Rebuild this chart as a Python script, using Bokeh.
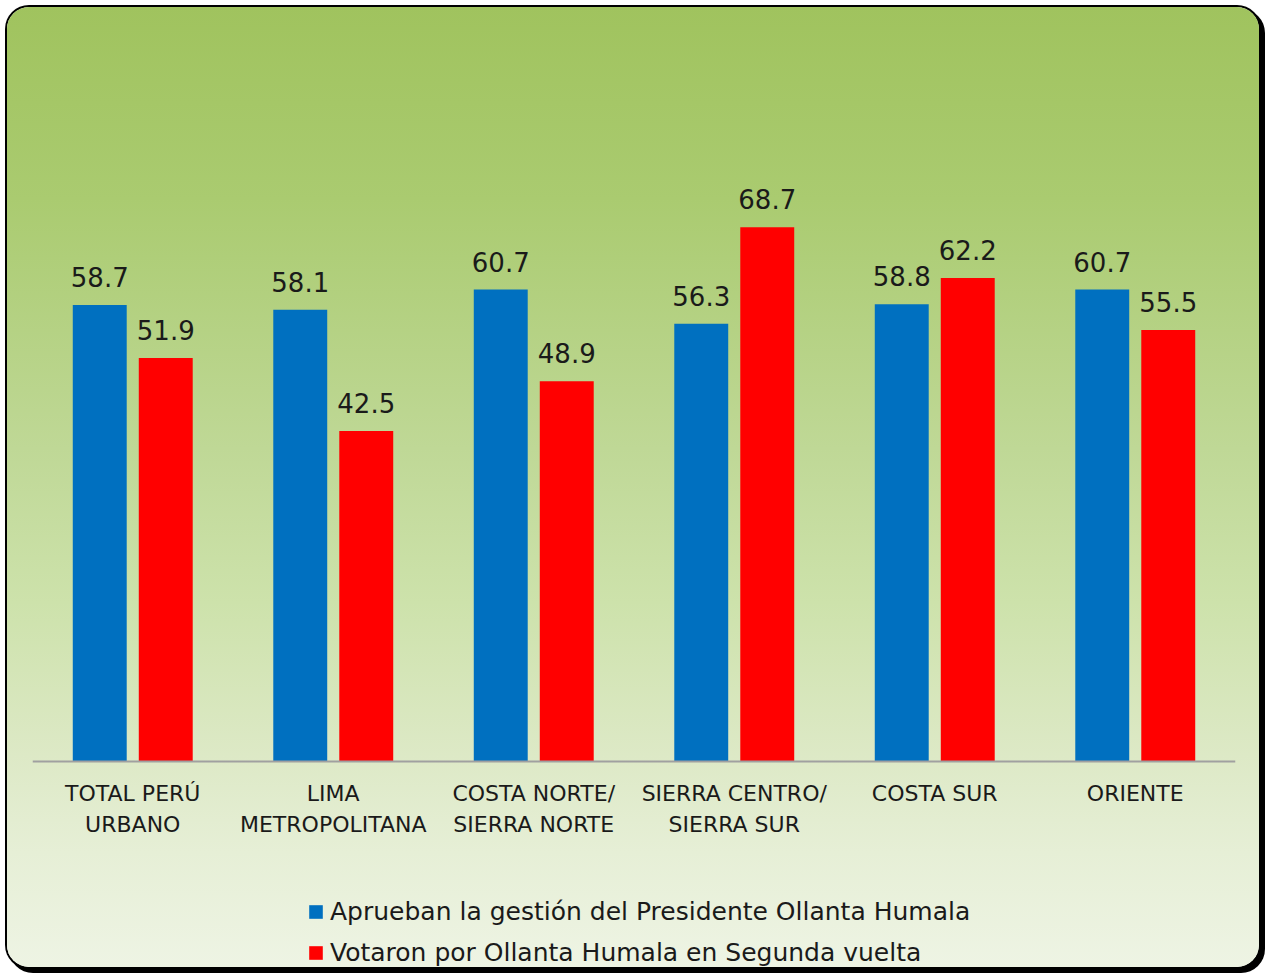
from bokeh.plotting import figure
from bokeh.models import ColumnDataSource, FactorRange, Range1d, Legend, LegendItem, LabelSet
from bokeh.core.properties import value
from bokeh.transform import dodge
from bokeh.embed import file_html
from bokeh.resources import INLINE

categories = ["TOTAL PERÚ\nURBANO", "LIMA\nMETROPOLITANA", "COSTA NORTE/\nSIERRA NORTE",
              "SIERRA CENTRO/\nSIERRA SUR", "COSTA SUR", "ORIENTE"]
aprueban = [58.7, 58.1, 60.7, 56.3, 58.8, 60.7]
votaron = [51.9, 42.5, 48.9, 68.7, 62.2, 55.5]
series_names = ["Aprueban la gestión del Presidente Ollanta Humala",
                "Votaron por Ollanta Humala en Segunda vuelta"]

src = ColumnDataSource(dict(cat=categories, a=aprueban, v=votaron,
                            a_lbl=[f"{x:.1f}" for x in aprueban],
                            v_lbl=[f"{x:.1f}" for x in votaron]))

FONT = "DejaVu Sans"
OFF = 7
TOP = 139 - OFF          # frame top inside the figure
ZERO = 761 - OFF         # y of the axis line inside the figure
BOTTOM = 960             # frame bottom inside the figure
PX_PER_UNIT = 622 / 80
y_min = -(BOTTOM - ZERO) / PX_PER_UNIT

p = figure(x_range=FactorRange(factors=categories, range_padding=0),
           y_range=Range1d(y_min, 80), frame_width=1203, frame_height=BOTTOM - TOP,
           output_backend="svg", toolbar_location=None,
           min_border_left=32 - OFF, min_border_right=24,
           min_border_top=TOP, min_border_bottom=0)
p.background_fill_color = None
p.border_fill_color = None
p.outline_line_color = None
p.styles = {
    "margin-left": f"{OFF}px",
    "margin-top": f"{OFF}px",
    "background-image": "linear-gradient(to bottom, #a0c35e 0%, #aacb70 20%, #bfd896 46%, #cde2ab 62%, #dde9c6 78%, #e6efd6 88%, #eef4e4 100%)",
    "border-radius": "22px",
    "box-shadow": "0 0 0 2px #000, 4px 4px 0 2px #000",
}

r1 = p.vbar(x=dodge("cat", -0.1646, range=p.x_range), top="a", bottom=0, width=0.269, source=src,
            fill_color="#0070C0", line_color=None)
r2 = p.vbar(x=dodge("cat", 0.1646, range=p.x_range), top="v", bottom=0, width=0.269, source=src,
            fill_color="#FF0000", line_color=None)

for col, lbl, off in (("a", "a_lbl", -0.1646), ("v", "v_lbl", 0.1646)):
    p.add_layout(LabelSet(x=dodge("cat", off, range=p.x_range), y=col, text=lbl, source=src,
                          y_offset=18, text_align="center", text_baseline="alphabetic",
                          text_font=value(FONT), text_font_size="26px", text_color="#1a1a1a"))

p.yaxis.visible = False
p.xgrid.visible = False
p.ygrid.visible = False
ax = p.xaxis[0]
ax.fixed_location = 0
ax.axis_line_color = "#a0a0a0"
ax.axis_line_width = 2
ax.major_tick_line_color = None
ax.minor_tick_line_color = None
ax.major_label_text_font = FONT
ax.major_label_text_font_size = "22px"
ax.major_label_text_color = "#1a1a1a"
ax.major_label_standoff = 13
ax.major_label_text_line_height = 1.25

legend = Legend(items=[LegendItem(label=series_names[0], renderers=[r1]),
                       LegendItem(label=series_names[1], renderers=[r2])],
                location=(307 - 32, 0), orientation="vertical",
                label_text_font=FONT, label_text_font_size="25px", label_text_color="#1a1a1a",
                glyph_width=17, glyph_height=17, label_height=26, spacing=12,
                label_standoff=6, padding=0, margin=0,
                background_fill_alpha=0, border_line_color=None)
p.add_layout(legend, "center")

open("out.html", "w").write(file_html(p, INLINE))
